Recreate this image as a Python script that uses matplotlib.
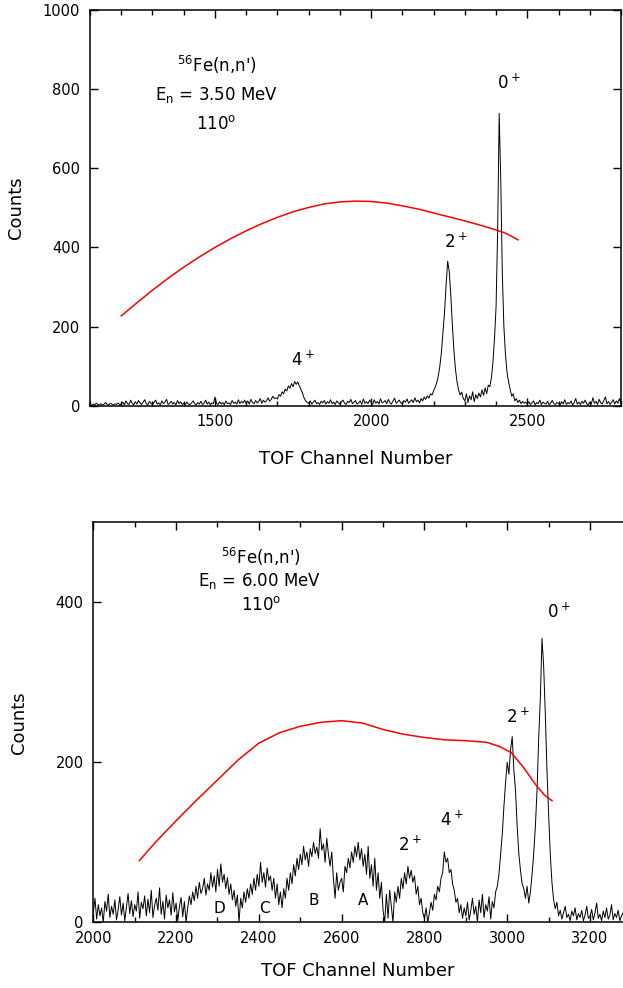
import numpy as np
import matplotlib
matplotlib.use("Agg")
from matplotlib import pyplot as plt
from matplotlib.ticker import MultipleLocator

# ---- upper spectrum, En = 3.50 MeV (channels 1100..2800, step 5) ----
top_ch = np.arange(1100, 2801, 5)
top_counts = [
    3, 1, 4, 2, 6, 3, 2, 5, 1, 4, 8, 3, 2, 6, 4, 1, 5, 3, 7, 2,
    4, 9, 2, 12, 5, 3, 14, 6, 2, 10, 4, 13, 7, 3, 9, 15, 5, 2, 11, 6,
    3, 8, 14, 4, 7, 2, 12, 5, 9, 16, 3, 6, 11, 4, 8, 2, 13, 5, 10, 3,
    6, 2, 9, 4, 3, 7, 12, 5, 2, 8, 4, 11, 3, 6, 14, 4, 9, 2, 7, 5,
    22, 6, 3, 10, 4, 8, 2, 12, 5, 7, 3, 13, 6, 9, 4, 15, 5, 11, 7, 14,
    6, 12, 4, 16, 8, 5, 13, 7, 10, 18, 6, 14, 9, 12, 20, 11, 16, 24, 18, 20,
    17, 28, 24, 35, 30, 42, 37, 50, 44, 56, 48, 61, 54, 60, 50, 42, 32, 20, 13, 8,
    6, 12, 4, 9, 14, 5, 8, 3, 11, 7, 13, 4, 10, 6, 15, 5, 9, 3, 12, 7,
    4, 10, 14, 6, 3, 11, 8, 16, 5, 9, 13, 4, 7, 12, 3, 17, 6, 10, 5, 14,
    8, 3, 15, 6, 11, 4, 18, 7, 9, 13, 5, 16, 8, 4, 12, 19, 6, 10, 14, 7,
    5, 13, 9, 17, 6, 11, 15, 8, 20, 10, 14, 7, 18, 12, 22, 16, 25, 19, 30, 27,
    38, 46, 58, 75, 100, 135, 185, 235, 305, 365, 340, 280, 205, 140, 92, 60, 40, 27, 34, 18,
    12, 30, 8, 25, 15, 35, 10, 28, 18, 32, 22, 40, 26, 45, 30, 52, 48, 70, 110, 170,
    250, 440, 739, 570, 335, 200, 130, 85, 60, 42, 24, 30, 12, 18, 8, 14, 5, 11, 6, 9,
    4, 10, 3, 7, 12, 2, 8, 5, 14, 3, 9, 6, 4, 11, 2, 7, 13, 5, 3, 8,
    6, 2, 10, 4, 15, 3, 8, 5, 12, 2, 7, 18, 4, 9, 3, 11, 6, 14, 5, 2,
    9, 4, 20, 6, 11, 3, 16, 7, 4, 13, 22, 5, 10, 3, 8, 15, 4, 12, 6, 18,
    5,
]
top_fit_ch = [1200, 1250, 1300, 1350, 1400, 1450, 1500, 1550, 1600, 1650, 1700,
              1750, 1800, 1850, 1900, 1950, 2000, 2050, 2100, 2150, 2200, 2250,
              2300, 2350, 2400, 2430, 2450, 2470]
top_fit = [227, 260, 292, 322, 350, 376, 400, 422, 442, 460, 476,
           490, 501, 510, 515, 517, 516, 512, 505, 497, 487, 477,
           467, 456, 444, 436, 428, 419]

# ---- lower spectrum, En = 6.00 MeV (channels 2000..3280, step 4) ----
bot_ch = np.arange(2000, 3281, 4)
bot_counts = [
    12, 30, 4, 22, 8, 18, 0, 26, 14, 35, 6, 20, 10, 28, 3, 16, 32, 9, 24, 2, 19, 36, 11, 27, 7,
    22, 14, 38, 5, 25, 17, 33, 8, 29, 12, 40, 6, 21, 30, 15, 43, 10, 26, 4, 34, 18, 28, 9, 37, 13,
    24, 2, 20, 31, 7, 26, 0, 18, 33, 22, 38, 27, 45, 30, 50, 36, 42, 55, 34, 48, 40, 62, 44, 58, 38,
    66, 45, 73, 50, 60, 42, 56, 35, 48, 28, 40, 20, 34, 0, 30, 18, 38, 25, 42, 30, 48, 35, 55, 40, 60,
    45, 75, 50, 62, 44, 68, 52, 58, 40, 55, 30, 48, 22, 38, 18, 42, 30, 55, 40, 62, 48, 72, 58, 80, 66,
    85, 72, 95, 78, 88, 70, 92, 82, 100, 86, 94, 80, 117, 90, 98, 75, 105, 85, 70, 88, 55, 30, 62, 40, 50,
    55, 38, 70, 62, 80, 68, 88, 75, 95, 82, 100, 78, 92, 70, 85, 60, 95, 55, 72, 45, 80, 40, 62, 30, 50,
    15, 0, 35, 5, 40, 20, 0, 38, 25, 45, 30, 55, 42, 62, 48, 70, 55, 65, 50, 58, 35, 45, 22, 30, 12,
    5, 18, 0, 12, 25, 15, 35, 28, 45, 38, 55, 62, 88, 75, 80, 62, 66, 48, 40, 25, 30, 12, 22, 5, 18,
    8, 25, 3, 15, 30, 10, 20, 0, 28, 12, 35, 6, 22, 14, 32, 4, 26, 18, 38, 45, 60, 85, 110, 145, 175,
    200, 185, 215, 232, 190, 165, 120, 86, 65, 48, 42, 30, 45, 24, 38, 60, 86, 120, 165, 230, 280, 355, 320, 260, 190,
    135, 85, 50, 28, 17, 25, 8, 15, 4, 12, 20, 6, 10, 2, 14, 8, 18, 3, 11, 6, 15, 2, 9, 20, 5,
    7, 16, 3, 12, 24, 5, 10, 2, 14, 6, 18, 4, 9, 22, 3, 11, 6, 15, 2, 8, 12,
]
bot_fit_ch = [2111, 2150, 2200, 2250, 2300, 2350, 2400, 2450, 2500, 2550, 2600,
              2650, 2700, 2750, 2800, 2850, 2900, 2950, 2980, 3010, 3040, 3070,
              3090, 3108]
bot_fit = [77, 100, 127, 153, 178, 203, 224, 237, 245, 250, 252,
           249, 241, 235, 231, 228, 227, 225, 220, 212, 193, 171,
           159, 152]

top_peaks = [("4$^+$", 1781, 115), ("2$^+$", 2270, 414), ("0$^+$", 2440, 815)]
bot_peaks = [("2$^+$", 2764, 97), ("4$^+$", 2865, 128), ("2$^+$", 3026, 257),
             ("0$^+$", 3124, 388)]
bot_groups = [("D", 2304, 17), ("C", 2413, 17), ("B", 2533, 27), ("A", 2652, 27)]


def style_axes(ax, right=True):
    ax.tick_params(which="both", direction="in", top=True, right=right,
                   labelsize=10.5, width=1.0)
    ax.tick_params(which="major", length=5.5)
    ax.tick_params(which="minor", length=3.5)
    ax.tick_params(axis="y", pad=7)
    ax.tick_params(axis="x", pad=6)
    for s in ax.spines.values():
        s.set_linewidth(1.1)


fig = plt.figure(figsize=(6.23, 9.88), dpi=100)

# upper panel
ax1 = fig.add_axes([0.1445, 0.5894, 0.8523, 0.4005])
ax1.plot(top_ch, top_counts, color="black", lw=0.7)
ax1.plot(top_fit_ch, top_fit, color="red", lw=1.1)
ax1.set_xlim(1100, 2800)
ax1.set_ylim(0, 1000)
ax1.xaxis.set_major_locator(MultipleLocator(500))
ax1.xaxis.set_minor_locator(MultipleLocator(100))
ax1.yaxis.set_major_locator(MultipleLocator(200))
style_axes(ax1)
ax1.set_xlabel("TOF Channel Number", fontsize=13)
ax1.set_ylabel("Counts", fontsize=13)
ax1.xaxis.set_label_coords(0.5, -0.112)
ax1.yaxis.set_label_coords(-0.122, 0.5)
ax1.text(1505, 861, "$^{56}$Fe(n,n')", ha="center", va="center", fontsize=12)
ax1.text(1505, 785, "E$_{\\rm n}$ = 3.50 MeV", ha="center", va="center", fontsize=12)
ax1.text(1505, 712, "110$^{\\rm o}$", ha="center", va="center", fontsize=12)
for lab, x, y in top_peaks:
    ax1.text(x, y, lab, ha="center", va="center", fontsize=12)

# lower panel
ax2 = fig.add_axes([0.1498, 0.0665, 0.8504, 0.4049])
ax2.plot(bot_ch, bot_counts, color="black", lw=0.7)
ax2.plot(bot_fit_ch, bot_fit, color="red", lw=1.1)
ax2.set_xlim(2000, 3280)
ax2.set_ylim(0, 500)
ax2.xaxis.set_major_locator(MultipleLocator(200))
ax2.xaxis.set_minor_locator(MultipleLocator(100))
ax2.yaxis.set_major_locator(MultipleLocator(200))
style_axes(ax2, right=False)
ax2.spines["right"].set_visible(False)
ax2.set_xlabel("TOF Channel Number", fontsize=13)
ax2.set_ylabel("Counts", fontsize=13)
ax2.xaxis.set_label_coords(0.5, -0.1)
ax2.yaxis.set_label_coords(-0.123, 0.5)
ax2.text(2404, 457, "$^{56}$Fe(n,n')", ha="center", va="center", fontsize=12)
ax2.text(2402, 426, "E$_{\\rm n}$ = 6.00 MeV", ha="center", va="center", fontsize=12)
ax2.text(2405, 397, "110$^{\\rm o}$", ha="center", va="center", fontsize=12)
for lab, x, y in bot_peaks:
    ax2.text(x, y, lab, ha="center", va="center", fontsize=12)
for lab, x, y in bot_groups:
    ax2.text(x, y, lab, ha="center", va="center", fontsize=11)

fig.savefig("out.png", dpi=100)
